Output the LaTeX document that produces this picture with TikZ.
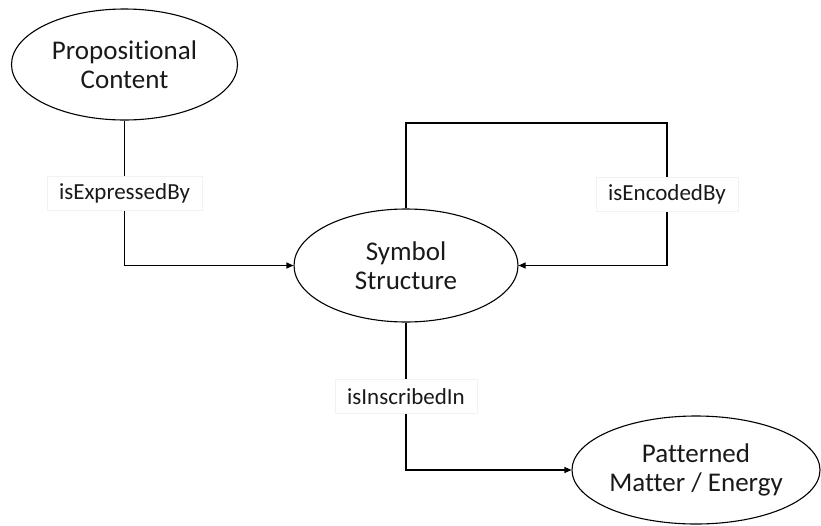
\documentclass[tikz,border=0pt]{standalone}
\usepackage{fontspec}
\setmainfont{Carlito}[Ligatures={NoCommon}]
\usetikzlibrary{arrows.meta,shapes.geometric}
\begin{document}
\begin{tikzpicture}[x=1pt,y=-1pt,
  concept/.style={ellipse,draw,line width=1.1pt,align=center,inner sep=0pt,
    font=\fontsize{27}{29.5}\selectfont,text=black!90},
  lbl/.style={fill=white,draw=black!5,line width=0.5pt,inner xsep=12pt,
    minimum height=34pt,font=\fontsize{23}{26}\selectfont,text=black!90},
  rel/.style={line width=1.1pt,-{Triangle[length=7pt,width=6pt]}}]
\useasboundingbox (0,0) rectangle (821,525);
\node[concept,minimum width=226pt,minimum height=111pt] (pc) at (124.5,64.5) {Propositional\\Content};
\node[concept,minimum width=224pt,minimum height=113pt] (ss) at (406,265.5) {Symbol\\Structure};
\node[concept,minimum width=248pt,minimum height=108pt] (pm) at (696,470) {Patterned\\Matter / Energy};
\coordinate (loop) at (667,123);
\draw[rel] (pc.south) -- node[lbl] {isExpressedBy} (pc.south |- ss.west) -- (ss.west);
\draw[rel] (ss.north) |- (loop) -- node[lbl] {isEncodedBy} (loop |- ss.east) -- (ss.east);
\draw[rel] (ss.south) -- node[lbl] {isInscribedIn} (ss.south |- pm.west) -- (pm.west);
\end{tikzpicture}
\end{document}
